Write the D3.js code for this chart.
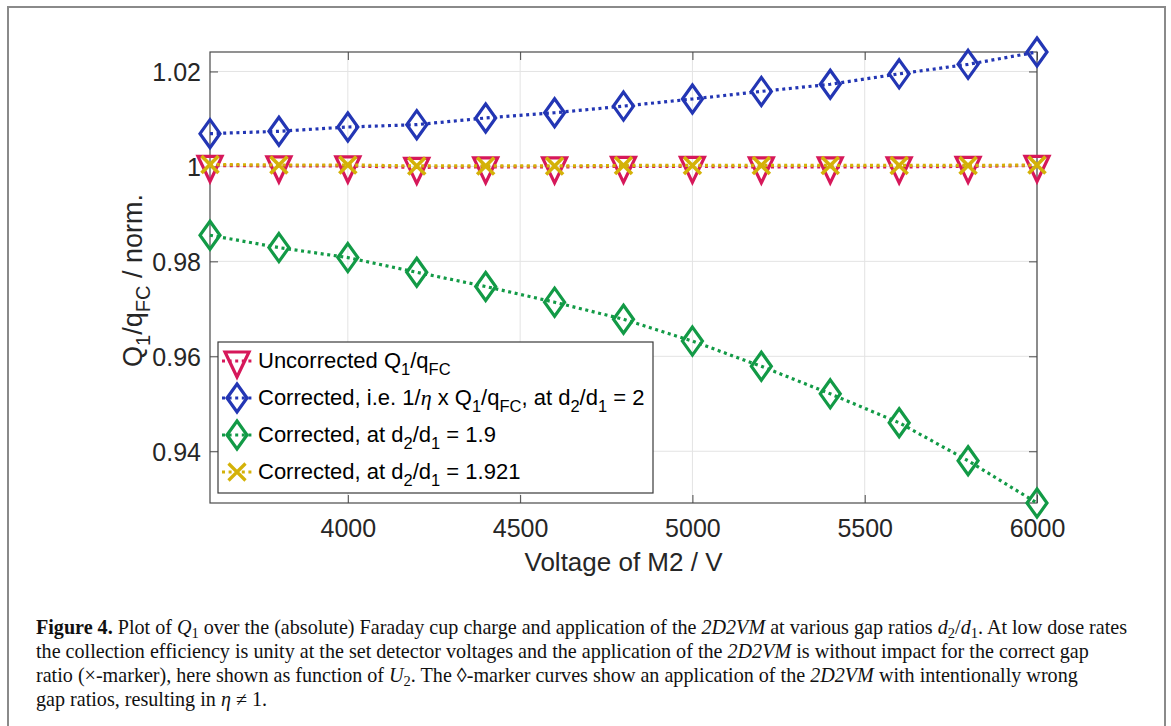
<!DOCTYPE html>
<html><head><meta charset="utf-8">
<script src="https://cdn.jsdelivr.net/npm/d3@7"></script>
<style>body{margin:0;background:#fff}</style>
</head><body><svg id="c" width="1171" height="726"></svg>
<script>
// ---- data ----
const voltages = [3600,3800,4000,4200,4400,4600,4800,5000,5200,5400,5600,5800,6000];
const uncorrected   = [1.0002,1.0001,1.0001,0.9998,0.9999,0.9999,1.0000,1.0000,0.9999,0.9999,0.9999,1.0000,1.0002];
const correctedD2   = [1.0069,1.0074,1.0083,1.0088,1.0102,1.0113,1.0127,1.0142,1.0158,1.0173,1.0195,1.0215,1.0241];
const correctedD19  = [0.9855,0.9829,0.9808,0.9777,0.9747,0.9714,0.9678,0.9632,0.9579,0.9521,0.9460,0.9380,0.9291];
const correctedD1921= [1.0004,1.0003,1.0003,1.0001,1.0001,1.0001,1.0002,1.0002,1.0002,1.0002,1.0002,1.0002,1.0003];
const xTicks = [4000,4500,5000,5500,6000];
const yTicks = [0.94,0.96,0.98,1,1.02];
const yTickLabels = ["0.94","0.96","0.98","1","1.02"];
const xDomain = [3600,6000];
const yDomain = [0.9291,1.0241];

const svg = d3.select('#c');
const SANS = "'Liberation Sans', Arial, Helvetica, sans-serif";
const SERIF = "'Liberation Serif', 'Times New Roman', serif";

// outer frame
svg.append('path').attr('d','M8,730 L8,7 L1165,7 L1165,730')
  .attr('fill','none').attr('stroke','#8a8a8a').attr('stroke-width',2);

const L=210, R=1037, T=52, B=503;
const x = d3.scaleLinear().domain(xDomain).range([L,R]);
const y = d3.scaleLinear().domain(yDomain).range([B,T]);

// grid
const g = svg.append('g');
g.selectAll('.gx').data(xTicks).enter().append('line')
  .attr('x1',d=>x(d)).attr('x2',d=>x(d)).attr('y1',T).attr('y2',B)
  .attr('stroke','#e3e3e3').attr('stroke-width',1);
g.selectAll('.gy').data(yTicks).enter().append('line')
  .attr('y1',d=>y(d)).attr('y2',d=>y(d)).attr('x1',L).attr('x2',R)
  .attr('stroke','#e3e3e3').attr('stroke-width',1);

// axes
function styleAxis(sel){
  sel.select('.domain').remove();
  sel.selectAll('line').attr('stroke','#4a4a4a').attr('stroke-width',1);
  sel.selectAll('text').attr('fill','#262626').attr('font-family',SANS).attr('font-size',25);
}
const ax = svg.append('g').attr('transform',`translate(0,${B})`)
  .call(d3.axisBottom(x).tickValues(xTicks).tickSize(-8).tickPadding(16).tickFormat(d3.format('d')));
styleAxis(ax);
const axT = svg.append('g').attr('transform',`translate(0,${T})`)
  .call(d3.axisTop(x).tickValues(xTicks).tickSize(-8).tickFormat(''));
styleAxis(axT);
const ay = svg.append('g').attr('transform',`translate(${L},0)`)
  .call(d3.axisLeft(y).tickValues(yTicks).tickSize(-8).tickPadding(9).tickFormat((d,i)=>yTickLabels[i]));
styleAxis(ay);
ay.selectAll('text').attr('dy','0.36em');
const ayR = svg.append('g').attr('transform',`translate(${R},0)`)
  .call(d3.axisRight(y).tickValues(yTicks).tickSize(-8).tickFormat(''));
styleAxis(ayR);
svg.append('rect').attr('x',L).attr('y',T).attr('width',R-L).attr('height',B-T)
  .attr('fill','none').attr('stroke','#4a4a4a').attr('stroke-width',1.2);

// marker shapes
const shapes = {
  diamond: 'M0,-14 L10,0 L0,14 L-10,0 Z',
  tri: 'M-12,-9 L12,-9 L0,16 Z',
  x: 'M-8.5,-8.5 L8.5,8.5 M-8.5,8.5 L8.5,-8.5'
};
const series = [
  {name:'blue', vals:correctedD2, color:'#2336b4', shape:'diamond'},
  {name:'red', vals:uncorrected, color:'#d6185a', shape:'tri'},
  {name:'green', vals:correctedD19, color:'#129a46', shape:'diamond'},
  {name:'yellow', vals:correctedD1921, color:'#d4b208', shape:'x'}
];
const line = d3.line().x((d,i)=>x(voltages[i])).y(d=>y(d));
const plot = svg.append('g');
series.forEach(s=>{
  plot.append('path').attr('d',line(s.vals)).attr('fill','none')
    .attr('stroke',s.color).attr('stroke-width',3.2).attr('stroke-dasharray','3 3.6');
  plot.selectAll(null).data(s.vals).enter().append('path')
    .attr('d',shapes[s.shape])
    .attr('transform',(d,i)=>`translate(${x(voltages[i])},${y(d)})`)
    .attr('fill','none').attr('stroke',s.color).attr('stroke-width',s.shape==='x'?3.6:3.2)
    .attr('stroke-linejoin','miter');
});

// rich text helper
function rich(textSel, segs, subSize, subDy){
  let shifted=false;
  segs.forEach(s=>{
    if (typeof s === 'string') s = {t:s};
    const ts = textSel.append('tspan').text(s.t);
    if (s.sub){ ts.attr('font-size',subSize); if(!shifted){ts.attr('dy',subDy); shifted=true;} }
    else if (shifted){ ts.attr('dy',-subDy); shifted=false; }
    if (s.it) ts.attr('font-style','italic');
    if (s.b) ts.attr('font-weight','bold');
    if (s.f) ts.attr('font-family',s.f);
  });
}

// legend
const legRows = [
  {s:series[1], segs:['Uncorrected Q',{t:'1',sub:1},'/q',{t:'FC',sub:1}]},
  {s:series[0], segs:['Corrected, i.e. 1/',{t:'η',it:1,f:SERIF},' x Q',{t:'1',sub:1},'/q',{t:'FC',sub:1},', at d',{t:'2',sub:1},'/d',{t:'1',sub:1},' = 2']},
  {s:series[2], segs:['Corrected, at d',{t:'2',sub:1},'/d',{t:'1',sub:1},' = 1.9']},
  {s:series[3], segs:['Corrected, at d',{t:'2',sub:1},'/d',{t:'1',sub:1},' = 1.921']}
];
const leg = svg.append('g');
leg.append('rect').attr('x',218).attr('y',342).attr('width',435).attr('height',151)
  .attr('fill','#fff').attr('stroke','#3a3a3a').attr('stroke-width',1.2);
legRows.forEach((r,i)=>{
  const cy = 361 + i*37;
  leg.append('line').attr('x1',222).attr('x2',253).attr('y1',cy).attr('y2',cy)
    .attr('stroke',r.s.color).attr('stroke-width',3).attr('stroke-dasharray','3 3.6');
  leg.append('path').attr('d',shapes[r.s.shape]).attr('transform',`translate(237,${cy})`)
    .attr('fill','none').attr('stroke',r.s.color).attr('stroke-width',3.2);
  const t = leg.append('text').attr('x',258).attr('y',cy+7).attr('font-family',SANS)
    .attr('font-size',22).attr('fill','#000');
  rich(t, r.segs, 16.5, 7);
});

// axis labels
const xl = svg.append('text').attr('x',(L+R)/2).attr('y',571).attr('text-anchor','middle')
  .attr('font-family',SANS).attr('font-size',26).attr('fill','#262626').text('Voltage of M2 / V');
const yl = svg.append('text').attr('transform',`translate(142,${(T+B)/2+3}) rotate(-90)`)
  .attr('text-anchor','middle').attr('font-family',SANS).attr('font-size',27).attr('fill','#262626');
rich(yl, ['Q',{t:'1',sub:1},'/q',{t:'FC',sub:1},' / norm.'], 20, 8);

// caption
const capLines = [
  [{t:'Figure 4.',b:1},' Plot of ',{t:'Q',it:1},{t:'1',sub:1},' over the (absolute) Faraday cup charge and application of the ',{t:'2D2VM',it:1},' at various gap ratios ',{t:'d',it:1},{t:'2',sub:1},'/',{t:'d',it:1},{t:'1',sub:1},'. At low dose rates'],
  ['the collection efficiency is unity at the set detector voltages and the application of the ',{t:'2D2VM',it:1},' is without impact for the correct gap'],
  ['ratio (×-marker), here shown as function of ',{t:'U',it:1},{t:'2',sub:1},'. The ◊-marker curves show an application of the ',{t:'2D2VM',it:1},' with intentionally wrong'],
  ['gap ratios, resulting in ',{t:'η',it:1},' ≠ 1.']
];
let capSize = 19;
const cap = svg.append('g');
const capTexts = capLines.map((segs,i)=>{
  const t = cap.append('text').attr('x',36).attr('y',634+i*24).attr('font-family',SERIF)
    .attr('font-size',capSize).attr('fill','#111');
  rich(t, segs, capSize*0.72, 4);
  return t;
});
// fit first line width to ~1092px
const w0 = capTexts[0].node().getComputedTextLength();
const fs = capSize*1092/w0;
capTexts.forEach(t=>{
  t.attr('font-size',fs);
  t.selectAll('tspan').each(function(){ const s=d3.select(this); if(s.attr('font-size')) s.attr('font-size',fs*0.72); });
});
</script>
</body></html>
